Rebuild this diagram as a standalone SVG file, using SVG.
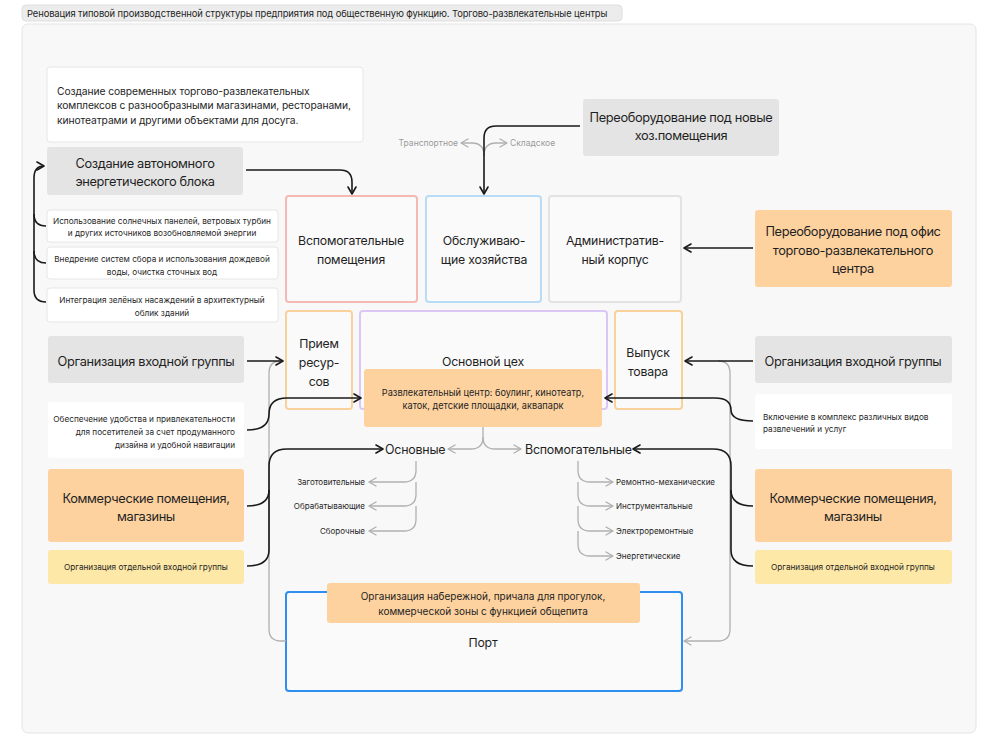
<svg xmlns="http://www.w3.org/2000/svg" width="1000" height="753" viewBox="0 0 1000 753">
<defs>
<marker id="ab" viewBox="0 0 10 10" refX="9" refY="5" markerWidth="10" markerHeight="10" markerUnits="userSpaceOnUse" orient="auto">
<path d="M2,1 L9,5 L2,9" fill="none" stroke="#1a1a1a" stroke-width="1.6" stroke-linecap="round" stroke-linejoin="round"/>
</marker>
<marker id="ag" viewBox="0 0 10 10" refX="9" refY="5" markerWidth="10" markerHeight="10" markerUnits="userSpaceOnUse" orient="auto">
<path d="M2,1 L9,5 L2,9" fill="none" stroke="#b0b0b0" stroke-width="1.4" stroke-linecap="round" stroke-linejoin="round"/>
</marker>
</defs>
<style>
text{font-family:Inter,"Noto Sans","Liberation Sans",sans-serif;fill:#1f1f1f}
.c{text-anchor:middle}
.r{text-anchor:end}
.big{font-size:12.8px;letter-spacing:-0.35px}
.mid{font-size:12.3px;letter-spacing:-0.2px}
.sm{font-size:8.2px}
.xs{font-size:8px}
.gray{fill:#e4e4e4}
.white{fill:#ffffff;stroke:#e6e6e6;stroke-width:1}
.orange{fill:#fdd29f}
.yellow{fill:#fde8a8}
.bld{fill:#fafafa;stroke-width:2}
.bk{fill:none;stroke:#1a1a1a;stroke-width:1.6}
.gr{fill:none;stroke:#b0b0b0;stroke-width:1.3}
.gt{fill:#9a9a9a;font-size:8.5px}
</style>
<rect x="0" y="0" width="1000" height="753" fill="#ffffff"/>
<g id="title">
<rect x="22" y="5" width="600" height="16" rx="4" fill="#ececec" stroke="#dedede"/>
<text x="27" y="16.5" style="font-size:9.4px;letter-spacing:-0.1px">Реновация типовой производственной структуры предприятия под общественную функцию. Торгово-развлекательные центры</text>
</g>
<rect id="frame" x="22" y="24" width="954" height="709" rx="6" fill="#f8f8f8" stroke="#e4e4e4"/>

<g id="intro">
<rect class="white" x="47" y="67" width="316" height="75" rx="3"/>
<text x="57" y="94.5" style="font-size:10.3px;letter-spacing:-0.1px">Создание современных торгово-развлекательных</text>
<text x="57" y="109" style="font-size:10.3px;letter-spacing:-0.1px">комплексов с разнообразными магазинами, ресторанами,</text>
<text x="57" y="123.5" style="font-size:10.3px;letter-spacing:-0.1px">кинотеатрами и другими объектами для досуга.</text>
</g>
<g id="energy">
<rect class="gray" x="47" y="147" width="196" height="48" rx="3"/>
<text class="c big" x="145" y="168">Создание автономного</text>
<text class="c big" x="145" y="186">энергетического блока</text>
</g>
<g id="e1">
<rect class="white" x="47" y="210" width="231" height="32" rx="3"/>
<text class="c sm" x="162" y="223.5">Использование солнечных панелей, ветровых турбин</text>
<text class="c sm" x="162" y="236">и других источников возобновляемой энергии</text>
</g>
<g id="e2">
<rect class="white" x="47" y="247" width="231" height="32" rx="3"/>
<text class="c sm" x="162" y="262">Внедрение систем сбора и использования дождевой</text>
<text class="c sm" x="162" y="274.5">воды, очистка сточных вод</text>
</g>
<g id="e3">
<rect class="white" x="47" y="288" width="231" height="34" rx="3"/>
<text class="c sm" x="162" y="303">Интеграция зелёных насаждений в архитектурный</text>
<text class="c sm" x="162" y="315.5">облик зданий</text>
</g>

<g id="aux">
<rect class="bld" x="286" y="196" width="131" height="106" rx="3" stroke="#f5b9b3"/>
<text class="c mid" x="351" y="245">Вспомогательные</text>
<text class="c mid" x="351" y="264">помещения</text>
</g>
<g id="service">
<rect class="bld" x="426" y="196" width="115" height="106" rx="3" stroke="#b9dcf6"/>
<text class="c mid" x="484" y="245">Обслуживаю-</text>
<text class="c mid" x="484" y="264">щие хозяйства</text>
</g>
<g id="admin">
<rect class="bld" x="549" y="196" width="132" height="106" rx="3" stroke="#e3e3e3"/>
<text class="c mid" x="615" y="245">Административ-</text>
<text class="c mid" x="615" y="264">ный корпус</text>
</g>
<g id="hoz">
<rect class="gray" x="583" y="99" width="196" height="57" rx="3"/>
<text class="c big" x="681" y="122">Переоборудование под новые</text>
<text class="c big" x="681" y="140">хоз.помещения</text>
</g>
<g id="office">
<rect class="orange" x="755" y="210" width="197" height="77" rx="3"/>
<text class="c big" x="853" y="236">Переоборудование под офис</text>
<text class="c big" x="853" y="255">торгово-развлекательного</text>
<text class="c big" x="853" y="273">центра</text>
</g>

<g id="intake">
<rect class="bld" x="286" y="311" width="66" height="98" rx="3" stroke="#f8d19b"/>
<text class="c mid" x="319" y="348">Прием</text>
<text class="c mid" x="319" y="367">ресур-</text>
<text class="c mid" x="319" y="386">сов</text>
</g>
<g id="main">
<rect class="bld" x="360" y="311" width="247" height="98" rx="3" stroke="#dcc6f6"/>
<text class="c mid" x="483" y="366">Основной цех</text>
<rect class="orange" x="364" y="369" width="238" height="58" rx="3"/>
<text class="c" x="483" y="395.5" style="font-size:9.2px">Развлекательный центр: боулинг, кинотеатр,</text>
<text class="c" x="483" y="409" style="font-size:9.2px">каток, детские площадки, аквапарк</text>
</g>
<g id="output">
<rect class="bld" x="615" y="311" width="67" height="98" rx="3" stroke="#f8d19b"/>
<text class="c mid" x="648" y="357">Выпуск</text>
<text class="c mid" x="648" y="376">товара</text>
</g>

<g id="entryL">
<rect class="gray" x="48" y="336" width="196" height="47" rx="3"/>
<text class="c big" x="146" y="365.5">Организация входной группы</text>
</g>
<g id="comfort">
<rect x="48" y="402" width="196" height="56" rx="3" fill="#ffffff"/>
<text class="r sm" x="235" y="422">Обеспечение удобства и привлекательности</text>
<text class="r sm" x="235" y="435">для посетителей за счет продуманного</text>
<text class="r sm" x="235" y="448">дизайна и удобной навигации</text>
</g>
<g id="entryR">
<rect class="gray" x="755" y="336" width="197" height="47" rx="3"/>
<text class="c big" x="853" y="365.5">Организация входной группы</text>
</g>
<g id="include">
<rect x="755" y="394" width="197" height="55" rx="3" fill="#ffffff"/>
<text class="sm" x="763" y="420">Включение в комплекс различных видов</text>
<text class="sm" x="763" y="432">развлечений и услуг</text>
</g>

<g id="basic"><text x="385" y="454" class="mid" style="font-size:12.4px">Основные</text></g>
<g id="auxw"><text x="525" y="454" class="mid" style="font-size:12.4px">Вспомогательные</text></g>

<g id="commL">
<rect class="orange" x="48" y="469" width="196" height="73" rx="3"/>
<text class="c big" x="146" y="502.5">Коммерческие помещения,</text>
<text class="c big" x="146" y="520.5">магазины</text>
</g>
<g id="sepL">
<rect class="yellow" x="48" y="550" width="196" height="34" rx="3"/>
<text class="c sm" x="146" y="570">Организация отдельной входной группы</text>
</g>
<g id="commR">
<rect class="orange" x="755" y="469" width="197" height="73" rx="3"/>
<text class="c big" x="853" y="502.5">Коммерческие помещения,</text>
<text class="c big" x="853" y="520.5">магазины</text>
</g>
<g id="sepR">
<rect class="yellow" x="755" y="550" width="197" height="34" rx="3"/>
<text class="c sm" x="853" y="570">Организация отдельной входной группы</text>
</g>

<g id="labels">
<text class="gt r" x="458" y="146">Транспортное</text>
<text class="gt" x="510" y="146">Складское</text>
<text class="xs r" x="365" y="485">Заготовительные</text>
<text class="xs r" x="365" y="509">Обрабатывающие</text>
<text class="xs r" x="365" y="534">Сборочные</text>
<text class="xs" x="616" y="485">Ремонтно-механические</text>
<text class="xs" x="616" y="509">Инструментальные</text>
<text class="xs" x="616" y="534">Электроремонтные</text>
<text class="xs" x="616" y="559">Энергетические</text>
</g>

<g id="port">
<rect x="286" y="592" width="396" height="99" rx="3" fill="#fafafa" stroke="#2e8ff0" stroke-width="2"/>
<rect class="orange" x="327" y="583" width="313" height="40" rx="3"/>
<text class="c" x="483" y="599.5" style="font-size:10px">Организация набережной, причала для прогулок,</text>
<text class="c" x="483" y="614.5" style="font-size:10px">коммерческой зоны с функцией общепита</text>
<text class="c mid" x="483" y="647">Порт</text>
</g>

<g id="connectors">
<path class="gr" d="M286,641 H281 Q269,641 269,629 V373 Q269,361 281,361"/>
<path class="gr" d="M718,361 Q730,361 730,373 V629 Q730,641 718,641 H684" marker-end="url(#ag)"/>
<path class="gr" d="M484,156 Q484,143 472,143 H461" marker-end="url(#ag)"/>
<path class="gr" d="M484,156 Q484,143 496,143 H507" marker-end="url(#ag)"/>
<path class="gr" d="M483,427 V437 Q483,449 471,449 H448" marker-end="url(#ag)"/>
<path class="gr" d="M483,437 Q483,449 495,449 H521" marker-end="url(#ag)"/>
<path class="gr" d="M416,461 V470 Q416,482 404,482 H369" marker-end="url(#ag)"/>
<path class="gr" d="M416,482 V494 Q416,506 404,506 H369" marker-end="url(#ag)"/>
<path class="gr" d="M416,506 V519 Q416,531 404,531 H369" marker-end="url(#ag)"/>
<path class="gr" d="M578,461 V470 Q578,482 590,482 H613" marker-end="url(#ag)"/>
<path class="gr" d="M578,482 V494 Q578,506 590,506 H613" marker-end="url(#ag)"/>
<path class="gr" d="M578,506 V519 Q578,531 590,531 H613" marker-end="url(#ag)"/>
<path class="gr" d="M578,531 V544 Q578,556 590,556 H613" marker-end="url(#ag)"/>

<path class="bk" d="M246,170 H340 Q352,170 352,182 V194" marker-end="url(#ab)"/>
<path class="bk" d="M46,302 Q34,302 34,290 V178 Q34,166 44,166" marker-end="url(#ab)"/>
<path class="bk" d="M46,226 Q34,226 34,214"/>
<path class="bk" d="M46,263 Q34,263 34,251"/>
<path class="bk" d="M580,126 H496 Q484,126 484,138 V194" marker-end="url(#ab)"/>
<path class="bk" d="M753,248 H684" marker-end="url(#ab)"/>
<path class="bk" d="M247,361 H283" marker-end="url(#ab)"/>
<path class="bk" d="M247,430 Q269,430 269,414 Q269,398 287,398 H361" marker-end="url(#ab)"/>
<path class="bk" d="M753,361 H685" marker-end="url(#ab)"/>
<path class="bk" d="M753,421 Q731,421 731,410 Q731,398 715,398 H605" marker-end="url(#ab)"/>
<path class="bk" d="M247,506 Q269,506 269,490 V466 Q269,449 287,449 H383" marker-end="url(#ab)"/>
<path class="bk" d="M247,566 Q269,566 269,550 V490"/>
<path class="bk" d="M753,506 Q731,506 731,490 V466 Q731,449 713,449 H633" marker-end="url(#ab)"/>
<path class="bk" d="M753,566 Q731,566 731,550 V490"/>
</g>
</svg>
